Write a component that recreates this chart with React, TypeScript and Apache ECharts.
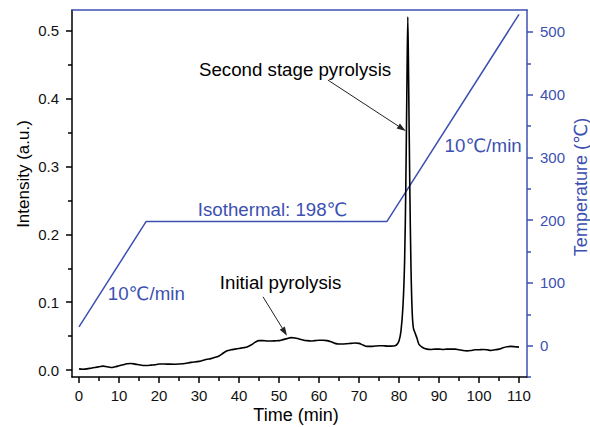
import React, { useEffect, useRef } from "react";
import * as echarts from "echarts";

const timeMin = [0,1,2,3,4,5,6,7,8,9,10,11,12,13,14,15,16,17,18,19,20,22,24,26,28,30,31,32,33,34,35,36,37,38,39,40,41,42,43,44,45,46,47,48,49,50,51,52,53,54,55,56,57,58,59,60,61,62,63,64,65,66,67,68,69,70,71,72,73,74,75,76,77,78,79,79.5,80,80.5,81,81.4,81.7,82.0,82.2,82.4,82.7,83.0,83.3,83.6,84,84.5,85,86,87,88,89,90,91,92,93,94,95,96,97,98,99,100,101,102,103,104,105,106,107,108,109,110];
const intensity = [0.002,0.0015,0.002,0.003,0.004,0.005,0.006,0.005,0.004,0.005,0.0065,0.008,0.0095,0.0098,0.009,0.008,0.007,0.007,0.0075,0.008,0.0092,0.009,0.0088,0.0095,0.0115,0.013,0.0145,0.016,0.017,0.019,0.021,0.025,0.0285,0.03,0.031,0.032,0.033,0.034,0.037,0.041,0.0435,0.0435,0.043,0.043,0.0432,0.0435,0.045,0.0465,0.048,0.0475,0.046,0.0445,0.0435,0.043,0.0435,0.044,0.044,0.0435,0.042,0.0395,0.0385,0.0385,0.039,0.0395,0.04,0.0395,0.037,0.035,0.035,0.0355,0.036,0.036,0.0355,0.0355,0.036,0.038,0.043,0.058,0.095,0.16,0.27,0.43,0.52,0.43,0.27,0.15,0.085,0.062,0.055,0.047,0.038,0.033,0.031,0.0305,0.031,0.031,0.0305,0.031,0.031,0.031,0.03,0.029,0.0285,0.029,0.03,0.03,0.0305,0.03,0.029,0.03,0.031,0.033,0.0345,0.035,0.0345,0.034];

const tempTime = [0, 16.8, 77, 110];
const tempValue = [30, 198, 198, 528];

const xMajor = [0, 10, 20, 30, 40, 50, 60, 70, 80, 90, 100, 110];
const xMinor = [5, 15, 25, 35, 45, 55, 65, 75, 85, 95, 105];
const yLeftMajor = [0, 0.1, 0.2, 0.3, 0.4, 0.5];
const yLeftMinor = [0.05, 0.15, 0.25, 0.35, 0.45];
const yRightMajor = [0, 100, 200, 300, 400, 500];
const yRightMinor = [-50, 50, 150, 250, 350, 450];

const BLUE = "#3C50B1";
const FONT = "'Liberation Sans', Arial, 'DejaVu Sans', 'Noto Sans CJK SC', sans-serif";

export default function App() {
  const ref = useRef<HTMLDivElement>(null);
  useEffect(() => {
    if (!ref.current) return;
    const chart = echarts.init(ref.current, null, { renderer: "svg" });
    const xBase = { type: "value", min: -1.75, max: 112, splitLine: { show: false } };
    const yL = { type: "value", min: -0.01, max: 0.53, position: "left", offset: 0, splitLine: { show: false } };
    const yR = { type: "value", min: -50, max: 535, position: "right", offset: 0, splitLine: { show: false } };
    chart.setOption({
      animation: false,
      grid: { left: 72, top: 10, right: 63, bottom: 50, containLabel: false },
      xAxis: [
        {
          ...xBase, position: "bottom", offset: 0,
          axisLine: { show: true, onZero: false, lineStyle: { color: "#000", width: 1.5 } },
          axisTick: { show: true, customValues: xMajor, length: 6, lineStyle: { color: "#000", width: 1.5 } },
          axisLabel: { show: true, customValues: xMajor, margin: 11, color: "#111", fontSize: 15, fontFamily: FONT },
        },
        {
          ...xBase, position: "bottom", offset: 0,
          axisLine: { show: false, onZero: false },
          axisTick: { show: true, customValues: xMinor, length: 4, lineStyle: { color: "#000", width: 1.5 } },
          axisLabel: { show: false },
        },
        {
          ...xBase, position: "top", offset: 0,
          axisLine: { show: true, onZero: false, lineStyle: { color: BLUE, width: 1.5 } },
          axisTick: { show: false },
          axisLabel: { show: false },
        },
      ],
      yAxis: [
        {
          ...yL,
          axisLine: { show: true, onZero: false, lineStyle: { color: "#000", width: 1.5 } },
          axisTick: { show: true, customValues: yLeftMajor, length: 6, lineStyle: { color: "#000", width: 1.5 } },
          axisLabel: { show: true, customValues: yLeftMajor, margin: 13, color: "#111", fontSize: 15, fontFamily: FONT, formatter: (v: number) => v.toFixed(1) },
        },
        {
          ...yL,
          axisLine: { show: false, onZero: false },
          axisTick: { show: true, customValues: yLeftMinor, length: 4, lineStyle: { color: "#000", width: 1.5 } },
          axisLabel: { show: false },
        },
        {
          ...yR,
          axisLine: { show: true, onZero: false, lineStyle: { color: BLUE, width: 1.5 } },
          axisTick: { show: true, customValues: yRightMajor, length: 6, lineStyle: { color: BLUE, width: 1.5 } },
          axisLabel: { show: true, customValues: yRightMajor, margin: 13, color: BLUE, fontSize: 15, fontFamily: FONT },
        },
        {
          ...yR,
          axisLine: { show: false, onZero: false },
          axisTick: { show: true, customValues: yRightMinor, length: 4, lineStyle: { color: BLUE, width: 1.5 } },
          axisLabel: { show: false },
        },
      ],
      series: [
        {
          type: "line", name: "Intensity", xAxisIndex: 0, yAxisIndex: 0,
          data: timeMin.map((t, i) => [t, intensity[i]]),
          showSymbol: false, smooth: 0.3, lineStyle: { color: "#000", width: 1.6 }, z: 3,
        },
        {
          type: "line", name: "Temperature", xAxisIndex: 0, yAxisIndex: 2,
          data: tempTime.map((t, i) => [t, tempValue[i]]),
          showSymbol: false, lineStyle: { color: BLUE, width: 1.5 }, z: 2,
        },
      ],
    });

    const px = (t: number, v: number) => chart.convertToPixel({ xAxisIndex: 0, yAxisIndex: 0 }, [t, v]) as number[];
    const arrow = (from: number[], to: number[], color: string) => {
      const a = px(from[0], from[1]);
      const b = px(to[0], to[1]);
      const ang = Math.atan2(b[1] - a[1], b[0] - a[0]);
      const L = 9, W = 3;
      const bx = b[0] - L * Math.cos(ang), by = b[1] - L * Math.sin(ang);
      const nx = -Math.sin(ang), ny = Math.cos(ang);
      return [
        { type: "line", shape: { x1: a[0], y1: a[1], x2: bx, y2: by }, style: { stroke: color, lineWidth: 1 } },
        { type: "polygon", shape: { points: [[b[0], b[1]], [bx + nx * W, by + ny * W], [bx - nx * W, by - ny * W]] }, style: { fill: color } },
      ];
    };
    const label = (t: number, v: number, text: string, color: string) => {
      const p = px(t, v);
      return { type: "text", x: p[0], y: p[1], style: { text, fill: color, fontSize: 18.7, fontFamily: FONT, align: "left", verticalAlign: "middle" } };
    };
    chart.setOption({
      graphic: [
        label(30.0, 0.443, "Second stage pyrolysis", "#000"),
        label(35.2, 0.1287, "Initial pyrolysis", "#000"),
        label(29.7, 0.236, "Isothermal: 198\u2103", BLUE),
        label(7.2, 0.1125, "10\u2103/min", BLUE),
        label(91.4, 0.330, "10\u2103/min", BLUE),
        ...arrow([62.2, 0.427], [81.7, 0.352], "#222"),
        ...arrow([46.0, 0.108], [52.0, 0.0507], "#222"),
        { type: "text", x: 23, y: 174, rotation: Math.PI / 2, style: { text: "Intensity (a.u.)", fill: "#000", fontSize: 17, fontFamily: FONT, align: "center", verticalAlign: "middle" } },
        { type: "text", x: 581, y: 187, rotation: Math.PI / 2, style: { text: "Temperature (\u2103)", fill: BLUE, fontSize: 18, fontFamily: FONT, align: "center", verticalAlign: "middle" } },
        { type: "text", x: 296, y: 415, style: { text: "Time (min)", fill: "#000", fontSize: 18, fontFamily: FONT, align: "center", verticalAlign: "middle" } },
      ],
    });
    return () => chart.dispose();
  }, []);
  return <div ref={ref} style={{ position: "fixed", left: 0, top: 0, width: 590, height: 427, background: "#fff" }} />;
}
